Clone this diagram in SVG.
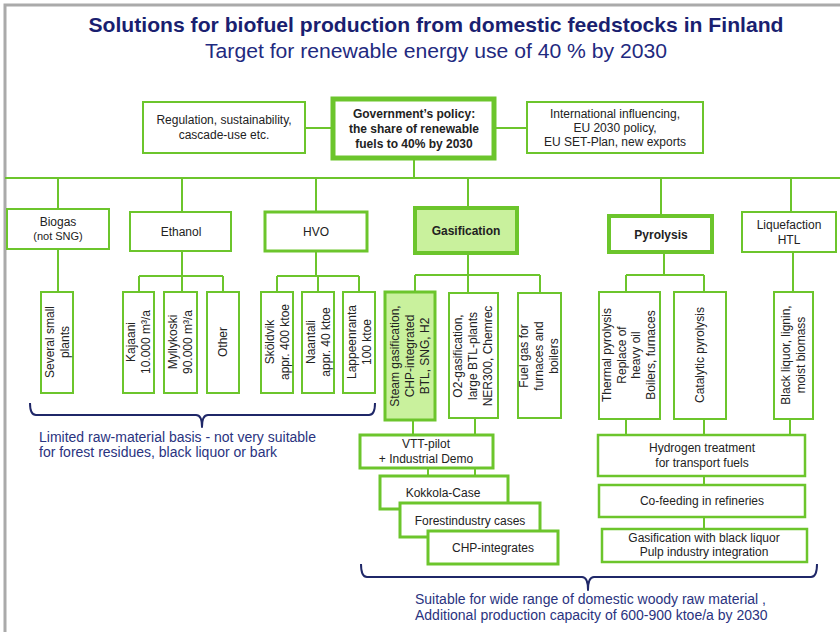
<svg xmlns="http://www.w3.org/2000/svg" width="840" height="632" viewBox="0 0 840 632">
<defs>
<style>
.bx{fill:#fff;stroke:#6cc52c;stroke-width:2}
.bxt{fill:#fff;stroke:#6cc52c;stroke-width:3.5}
.bxg{fill:#c9f19d;stroke:#6cc52c;stroke-width:3.5}
.ln{fill:none;stroke:#6cc52c;stroke-width:2}
.br{fill:none;stroke:#1f2768;stroke-width:2;stroke-linejoin:round}
text{font-family:"Liberation Sans",Arial,sans-serif;fill:#222;font-size:12px;text-anchor:middle}
.b{font-weight:bold}
.nv{fill:#2a3380;text-anchor:start;font-size:14px}
</style>
</defs>
<rect x="0" y="0" width="840" height="632" fill="#fff"/>
<path d="M5,632 V5 H840" fill="none" stroke="#aaaaaa" stroke-width="3"/>

<g id="title">
<text x="436" y="32" class="b" textLength="695" lengthAdjust="spacingAndGlyphs" style="font-size:21px;fill:#1a1f70">Solutions for biofuel production from domestic feedstocks in Finland</text>
<text x="436" y="58" textLength="462" lengthAdjust="spacingAndGlyphs" style="font-size:20px;fill:#1f2a80">Target for renewable energy use of 40 % by 2030</text>
</g>

<g id="connectors">
<path class="ln" d="M305,128 H333 M494,128 H527 M414,158 V178 M5,178 H840"/>
<path class="ln" d="M58,178 V209 M182,178 V212 M316,178 V212 M468,178 V208 M661,178 V216 M791,178 V212"/>
<path class="ln" d="M58,249 V292 M182,251 V276 M139,276 H223 M139,276 V292 M182,276 V292 M223,276 V292"/>
<path class="ln" d="M316,251 V276 M277,276 H359 M277,276 V292 M318,276 V292 M359,276 V292"/>
<path class="ln" d="M468,253 V275 M415,275 H540 M415,275 V292 M468,275 V293 M540,275 V293"/>
<path class="ln" d="M664,252 V275 M626,275 H704 M626,275 V292 M704,275 V292 M793,252 V292"/>
<path class="ln" d="M413,420 V435 M475,418 V435 M428,468 V476 M475,468 V476"/>
<path class="ln" d="M626,419 V435 M704,419 V435 M790,419 V435 M704,476 V485 M704,517 V529"/>
</g>

<g id="regulation"><rect class="bx" x="143" y="102" width="162" height="51"/>
<text x="224" y="124">Regulation, sustainability,</text><text x="224" y="139">cascade-use etc.</text></g>
<g id="government"><rect class="bxt" x="333" y="99" width="161" height="59" style="stroke-width:5"/>
<text class="b" x="414" y="118">Government’s policy:</text><text class="b" x="414" y="133">the share of renewable</text><text class="b" x="414" y="148">fuels to 40% by 2030</text></g>
<g id="international"><rect class="bx" x="527" y="102" width="176" height="51"/>
<text x="615" y="118">International influencing,</text><text x="615" y="132">EU 2030 policy,</text><text x="615" y="146">EU SET-Plan, new exports</text></g>

<g id="biogas"><rect class="bx" x="7" y="209" width="102" height="40"/>
<text x="58" y="226">Biogas</text><text x="58" y="240" style="font-size:11px">(not SNG)</text></g>
<g id="ethanol"><rect class="bx" x="130" y="212" width="101" height="39"/><text x="181" y="236">Ethanol</text></g>
<g id="hvo"><rect class="bxt" x="265" y="212" width="102" height="39" style="stroke-width:3"/><text x="316" y="236">HVO</text></g>
<g id="gasification"><rect class="bxg" x="415" y="208" width="102" height="45" style="stroke-width:4"/><text class="b" x="466" y="235">Gasification</text></g>
<g id="pyrolysis"><rect class="bxt" x="609" y="216" width="103" height="36" style="stroke-width:4"/><text class="b" x="661" y="239">Pyrolysis</text></g>
<g id="liquefaction"><rect class="bx" x="742" y="212" width="94" height="40"/>
<text x="789" y="229">Liquefaction</text><text x="789" y="244">HTL</text></g>

<g id="several"><rect class="bx" x="41" y="292" width="32" height="101"/>
<text transform="translate(57,342) rotate(-90)"><tspan x="0" y="-3">Several small</tspan><tspan x="0" y="12">plants</tspan></text></g>
<g id="kajaani"><rect class="bx" x="123" y="292" width="31" height="101"/>
<text transform="translate(138,342) rotate(-90)"><tspan x="0" y="-3">Kajaani</tspan><tspan x="0" y="12">10.000 m³/a</tspan></text></g>
<g id="myllykoski"><rect class="bx" x="164" y="292" width="33" height="101"/>
<text transform="translate(180,342) rotate(-90)"><tspan x="0" y="-3">Myllykoski</tspan><tspan x="0" y="12">90.000 m³/a</tspan></text></g>
<g id="other"><rect class="bx" x="207" y="292" width="32" height="101"/>
<text transform="translate(223,342) rotate(-90)"><tspan x="0" y="4">Other</tspan></text></g>
<g id="skoldvik"><rect class="bx" x="261" y="292" width="32" height="101"/>
<text transform="translate(277,342) rotate(-90)"><tspan x="0" y="-3">Sköldvik</tspan><tspan x="0" y="12">appr. 400 ktoe</tspan></text></g>
<g id="naantali"><rect class="bx" x="302" y="292" width="32" height="101"/>
<text transform="translate(318,342) rotate(-90)"><tspan x="0" y="-3">Naantali</tspan><tspan x="0" y="12">appr. 40 ktoe</tspan></text></g>
<g id="lappeenranta"><rect class="bx" x="343" y="292" width="32" height="101"/>
<text transform="translate(359,342) rotate(-90)"><tspan x="0" y="-3">Lappeenranta</tspan><tspan x="0" y="12">100 ktoe</tspan></text></g>

<g id="steam"><rect class="bxg" x="385" y="292" width="50" height="128" style="stroke-width:3"/>
<text transform="translate(410,356) rotate(-90)"><tspan x="0" y="-11">Steam gasification,</tspan><tspan x="0" y="4">CHP-integrated</tspan><tspan x="0" y="19">BTL, SNG, H2</tspan></text></g>
<g id="o2"><rect class="bx" x="449" y="293" width="49" height="125"/>
<text transform="translate(473,356) rotate(-90)"><tspan x="0" y="-11">O2-gasification,</tspan><tspan x="0" y="4">large BTL-plants</tspan><tspan x="0" y="19">NER300, Chemrec</tspan></text></g>
<g id="fuelgas"><rect class="bx" x="518" y="293" width="43" height="125"/>
<text transform="translate(539,356) rotate(-90)"><tspan x="0" y="-11">Fuel gas for</tspan><tspan x="0" y="4">furnaces and</tspan><tspan x="0" y="19">boilers</tspan></text></g>

<g id="thermal"><rect class="bx" x="599" y="292" width="61" height="127"/>
<text transform="translate(629,355) rotate(-90)"><tspan x="0" y="-18">Thermal pyrolysis</tspan><tspan x="0" y="-3">Replace of</tspan><tspan x="0" y="11">heavy oil</tspan><tspan x="0" y="26">Boilers, furnaces</tspan></text></g>
<g id="catalytic"><rect class="bx" x="674" y="292" width="52" height="127"/>
<text transform="translate(700,355) rotate(-90)"><tspan x="0" y="4">Catalytic pyrolysis</tspan></text></g>
<g id="blackliquor"><rect class="bx" x="774" y="292" width="39" height="127"/>
<text transform="translate(793,355) rotate(-90)"><tspan x="0" y="-3">Black liquor, lignin,</tspan><tspan x="0" y="12">moist  biomass</tspan></text></g>

<g id="vtt"><rect class="bxt" x="360" y="435" width="133" height="33" style="stroke-width:3"/>
<text x="426" y="448">VTT-pilot</text><text x="426" y="463">+ Industrial Demo</text></g>
<g id="kokkola"><rect class="bxt" x="380" y="476" width="128" height="33" style="stroke-width:3"/><text x="443" y="497">Kokkola-Case</text></g>
<g id="forestindustry"><rect class="bxt" x="400" y="503" width="140" height="34" style="stroke-width:3"/><text x="470" y="525">Forestindustry cases</text></g>
<g id="chp"><rect class="bxt" x="428" y="531" width="130" height="33" style="stroke-width:3"/><text x="493" y="552">CHP-integrates</text></g>

<g id="hydrogen"><rect class="bxt" x="598" y="435" width="207" height="41" style="stroke-width:2.5"/>
<text x="702" y="452">Hydrogen treatment</text><text x="702" y="467">for transport fuels</text></g>
<g id="cofeeding"><rect class="bxt" x="599" y="485" width="206" height="32" style="stroke-width:2.5"/><text x="702" y="505">Co-feeding in refineries</text></g>
<g id="gasblack"><rect class="bxt" x="602" y="529" width="205" height="33" style="stroke-width:2.5"/>
<text x="704" y="542">Gasification with black liquor</text><text x="704" y="556">Pulp industry integration</text></g>

<g id="brace-left">
<path class="br" d="M30,403 Q30,415 36,415 H196 Q202,415 202,427 Q202,415 208,415 H369 Q375,415 375,403"/>
<text class="nv" x="39" y="442">Limited raw-material basis -  not very suitable</text>
<text class="nv" x="39" y="457">for forest residues, black liquor or bark</text>
</g>
<g id="brace-bottom">
<path class="br" d="M361,564 Q361,577 367,577 H582 Q588,577 588,590 Q588,577 594,577 H811 Q817,577 817,564"/>
<text class="nv" x="415" y="604">Suitable for wide range of domestic woody raw material ,</text>
<text class="nv" x="415" y="620">Additional  production capacity of 600-900 ktoe/a by 2030</text>
</g>
</svg>
